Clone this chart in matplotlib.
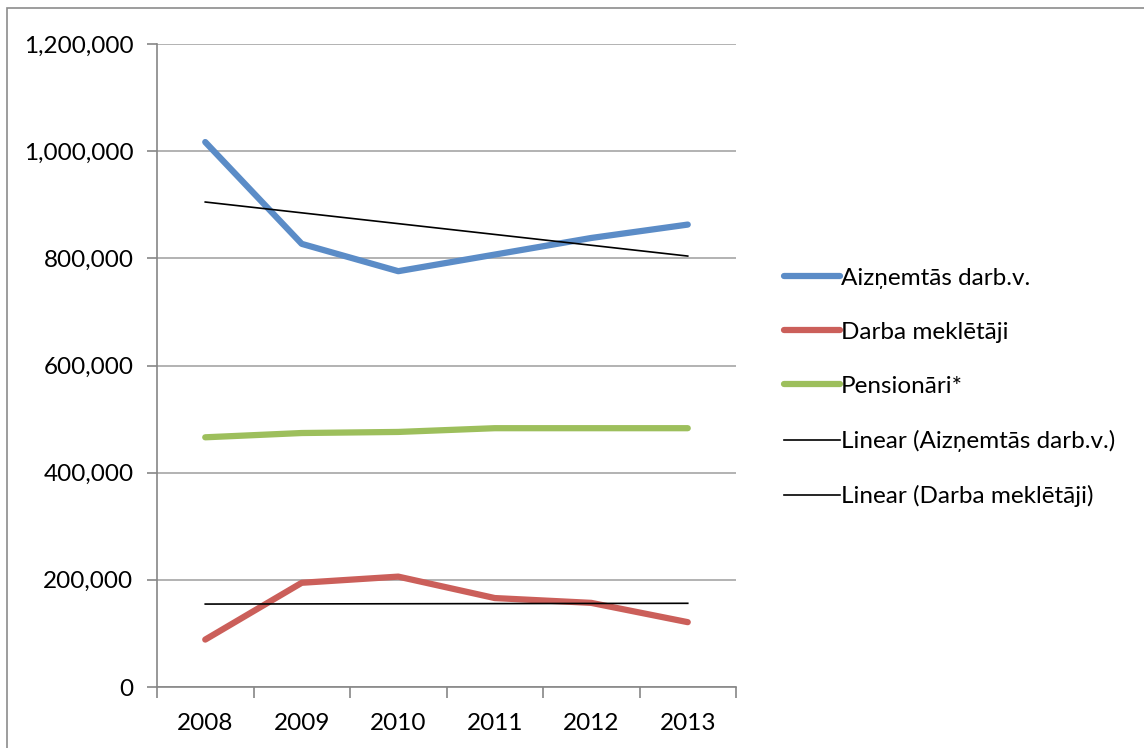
import matplotlib
matplotlib.use("Agg")
import matplotlib.pyplot as plt
import numpy as np
from matplotlib.ticker import FuncFormatter, FixedLocator
from matplotlib.patches import Rectangle

years = ["2008", "2009", "2010", "2011", "2012", "2013"]
employed = [1017000, 827000, 776000, 807000, 838000, 863000]
jobseekers = [88500, 194500, 206000, 166000, 157000, 121000]
pensioners = [466000, 474000, 476000, 483000, 483000, 483000]

plt.rcParams['font.family'] = ['Lato', 'DejaVu Sans']

W, H = 1144, 748
fig = plt.figure(figsize=(W / 100, H / 100), dpi=100)
fig.patches.append(Rectangle((7 / W, -0.1), 2, 1 - 8 / H + 0.1, transform=fig.transFigure,
                             fill=False, edgecolor='#8c8c8c', linewidth=1.2))

ax = fig.add_axes([157 / W, 1 - 687 / H, (736 - 157) / W, (687 - 44) / H])
x = np.arange(len(years))

c_blue = '#5b8cc7'
c_red = '#cb5f5a'
c_green = '#9dbf5c'
ax.plot(x, employed, color=c_blue, lw=4.5, solid_capstyle='round', solid_joinstyle='round',
        label='Aizņemtās darb.v.', zorder=3)
ax.plot(x, jobseekers, color=c_red, lw=4.5, solid_capstyle='round', solid_joinstyle='round',
        label='Darba meklētāji', zorder=3)
ax.plot(x, pensioners, color=c_green, lw=4.5, solid_capstyle='round', solid_joinstyle='round',
        label='Pensionāri*', zorder=3)

p1 = np.polyfit(x, employed, 1)
p2 = np.polyfit(x, jobseekers, 1)
ax.plot(x, np.polyval(p1, x), color='black', lw=1.2, label='Linear (Aizņemtās darb.v.)', zorder=4)
ax.plot(x, np.polyval(p2, x), color='black', lw=1.2, label='Linear (Darba meklētāji)', zorder=4)

ax.set_xlim(-0.5, len(years) - 0.5)
ax.set_ylim(0, 1200000)
ax.set_yticks(np.arange(0, 1200001, 200000))
ax.yaxis.set_major_formatter(FuncFormatter(lambda v, p: f"{int(v):,}"))
ax.set_xticks(x)
ax.set_xticklabels(years)
ax.xaxis.set_minor_locator(FixedLocator(np.arange(-0.5, len(years), 1.0)))
ax.tick_params(axis='x', which='major', length=0, pad=19, labelsize=17.5)
ax.tick_params(axis='x', which='minor', length=8, color='#868686', width=1.2)
ax.tick_params(axis='y', which='major', length=7, color='#868686', width=1.2, pad=10, labelsize=17.5)

ax.grid(axis='y', color='#a6a6a6', lw=1.2, zorder=0)
for s in ['top', 'right']:
    ax.spines[s].set_visible(False)
for s in ['left', 'bottom']:
    ax.spines[s].set_color('#868686')
    ax.spines[s].set_linewidth(1.2)

leg = fig.legend(loc='upper left', bbox_to_anchor=(774 / W, 1 - 258 / H), frameon=False,
                 fontsize=17.5, handlelength=2.3, handletextpad=0.05, labelspacing=1.36,
                 borderaxespad=0)

fig.savefig('out.png', dpi=100)
